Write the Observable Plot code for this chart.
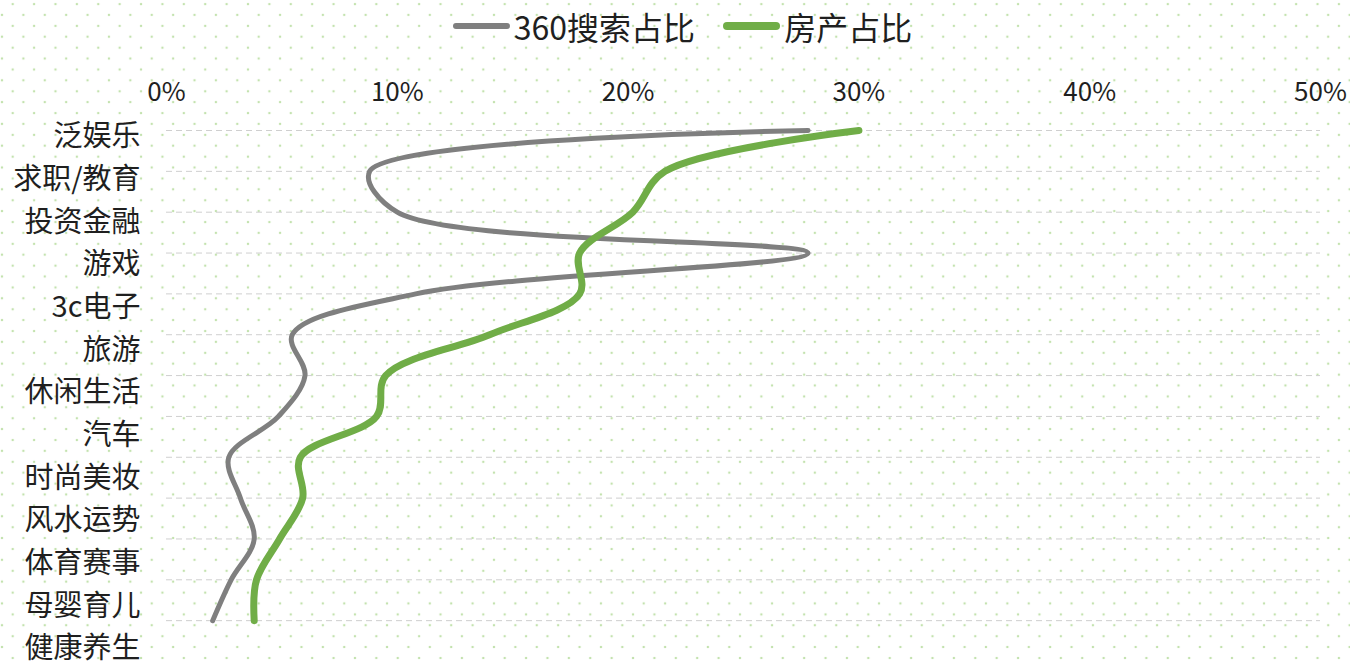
<!DOCTYPE html>
<html>
<head>
<meta charset="utf-8">
<script src="https://cdn.jsdelivr.net/npm/d3@7"></script>
<script src="https://cdn.jsdelivr.net/npm/@observablehq/plot@0.6"></script>
<style>
  html, body { margin: 0; padding: 0; }
  body {
    width: 1350px; height: 661px; overflow: hidden;
    background-color: #ffffff;
    background-image:
      radial-gradient(circle, #c3e2ae 1.1px, rgba(255,255,255,0) 1.6px),
      radial-gradient(circle, #c3e2ae 1.1px, rgba(255,255,255,0) 1.6px);
    background-size: 21.4px 21.8px, 21.4px 21.8px;
    background-position: 2px -6.8px, 12.7px 4px;
    font-family: "Noto Sans CJK SC", "Noto Sans", sans-serif;
    color: #1f1f1f;
  }
  #legend {
    height: 60px; display: flex; align-items: center; justify-content: center;
    padding-left: 15px; padding-bottom: 8px; box-sizing: border-box; font-size: 32px;
  }
  .item { display: flex; align-items: center; margin: 0 14px; }
  .sw { width: 57px; border-radius: 4px; margin-right: 4px; }
  #chart svg { display: block; background: transparent !important; }
</style>
</head>
<body>
<div id="legend"></div>
<div id="chart"></div>
<script>
const categories = ["泛娱乐","求职/教育","投资金融","游戏","3c电子","旅游","休闲生活","汽车","时尚美妆","风水运势","体育赛事","母婴育儿","健康养生"];
const search360 = [0.278, 0.088, 0.100, 0.278, 0.108, 0.0545, 0.060, 0.0485, 0.027, 0.032, 0.038, 0.028, 0.020];
const realEstate = [0.300, 0.216, 0.202, 0.179, 0.179, 0.140, 0.095, 0.091, 0.058, 0.059, 0.049, 0.039, 0.038];
const xTicks = [0, 0.1, 0.2, 0.3, 0.4, 0.5];
const seriesNames = ["360搜索占比", "房产占比"];
const seriesColors = ["#7f7f7f", "#70ad47"];

const grayRows = categories.map((c, i) => ({cat: c, idx: i, value: search360[i]}));
const greenRows = categories.map((c, i) => ({cat: c, idx: i, value: realEstate[i]}));
const labelRows = categories.map((c, i) => ({cat: c, pos: 0.09 + i * 1.044}));

// legend
const legend = document.getElementById("legend");
seriesNames.forEach((n, k) => {
  const it = document.createElement("div");
  it.className = "item";
  const sw = document.createElement("div");
  sw.className = "sw";
  sw.style.height = k === 0 ? "6px" : "8px";
  sw.style.background = seriesColors[k];
  const tx = document.createElement("span");
  tx.textContent = n;
  it.appendChild(sw); it.appendChild(tx);
  legend.appendChild(it);
});

const chart = Plot.plot({
  width: 1350,
  height: 601,
  marginTop: 70,
  marginBottom: 0,
  marginLeft: 166,
  marginRight: 30,
  style: {background: "transparent", fontFamily: "'Noto Sans CJK SC', 'Noto Sans', sans-serif", color: "#1f1f1f", overflow: "visible"},
  x: {domain: [0, 0.5], label: null},
  y: {domain: [0, 13], reverse: true, axis: null},
  marks: [
    Plot.ruleY(d3.range(14), {stroke: "#cfcfcf", strokeWidth: 1, strokeDasharray: "6,4"}),
    Plot.axisX(xTicks, {anchor: "top", tickSize: 0, tickPadding: 30, tickFormat: d3.format(".0%"), fontSize: 26, fill: "#1f1f1f", label: null}),
    Plot.text(labelRows, {y: "pos", text: "cat", frameAnchor: "left", dx: -26, dy: 3, textAnchor: "end", fontSize: 29, fill: "#1f1f1f"}),
    Plot.line(grayRows, {x: "value", y: "idx", curve: "catmull-rom", stroke: seriesColors[0], strokeWidth: 5, strokeLinecap: "round", strokeLinejoin: "round"}),
    Plot.line(greenRows, {x: "value", y: "idx", curve: "catmull-rom", stroke: seriesColors[1], strokeWidth: 7, strokeLinecap: "round", strokeLinejoin: "round"})
  ]
});
document.getElementById("chart").appendChild(chart);
</script>
</body>
</html>
